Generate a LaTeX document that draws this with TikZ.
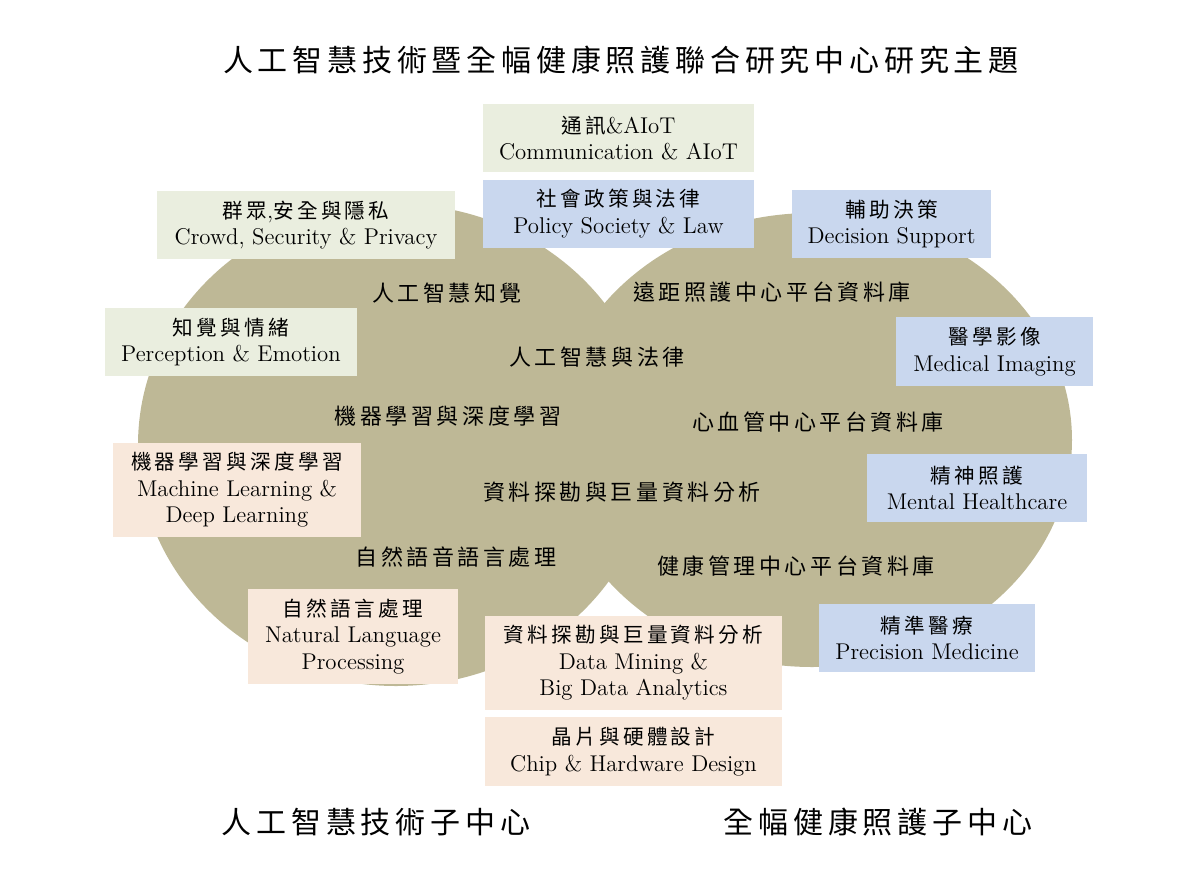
\documentclass[tikz,border=0pt]{standalone}
\usepackage{fontspec}
\newfontfamily\cjk[LetterSpace=16]{Noto Sans CJK TC}
\usetikzlibrary{positioning}
\definecolor{khaki}{HTML}{BEB896}
\definecolor{sage}{HTML}{EAEEDF}
\definecolor{sky}{HTML}{C9D7EE}
\definecolor{peach}{HTML}{F8E8DB}
\newcommand{\zh}[1]{{\cjk\fontsize{10.3}{13.3}\selectfont #1}}
\tikzset{card/.style={rectangle,inner sep=0pt,align=center,font=\fontsize{11.4}{13.3}\selectfont},
  netcard/.style={card,fill=sage},
  medcard/.style={card,fill=sky},
  aicard/.style={card,fill=peach},
  topic/.style={font=\cjk\fontsize{11}{13}\selectfont,inner sep=0pt},
  heading/.style={font=\cjk\fontsize{15}{18}\selectfont,inner sep=0pt}}

\begin{document}
\begin{tikzpicture}[x=.5pt,y=-.5pt]
\useasboundingbox (0,0) rectangle (1200,884);
% two overlapping sub-centres
\fill[khaki] (396,445) ellipse [x radius=258,y radius=241];
\fill[khaki] (812,440) ellipse [x radius=260,y radius=227];
\node[heading] (title) at (621,60) {人工智慧技術暨全幅健康照護聯合研究中心研究主題};
\node[heading] (aiside) at (376,822) {人工智慧技術子中心};
\node[heading] (hcside) at (878,822) {全幅健康照護子中心};
\foreach \x/\y/\t [count=\i] in {447/293/人工智慧知覺,597/357/人工智慧與法律,
  448/416/機器學習與深度學習,622/492/資料探勘與巨量資料分析,456/557/自然語音語言處理,
  772/292/遠距照護中心平台資料庫,818/422/心血管中心平台資料庫,796/566/健康管理中心平台資料庫}
  \node[topic] (topic\i) at (\x,\y) {\t};
% boxes
\node[netcard,minimum width=135.5pt,minimum height=34pt] (comm) at (618.5,138) {\zh{通訊}\&AIoT\\Communication \& AIoT};
\node[medcard,minimum width=135.5pt,minimum height=34pt] (policy) at (618.5,213.5) {\zh{社會政策與法律}\\Policy Society \& Law};
\node[netcard,minimum width=149pt,minimum height=34pt] (crowd) at (306,225) {\zh{群眾},\zh{安全與隱私}\\Crowd, Security \& Privacy};
\node[netcard,minimum width=126pt,minimum height=34pt] (percep) at (231,342) {\zh{知覺與情緒}\\Perception \& Emotion};
\node[aicard,minimum width=124pt,minimum height=47pt] (ml) at (237,490) {\zh{機器學習與深度學習}\\Machine Learning \&\\Deep Learning};
\node[aicard,minimum width=105pt,minimum height=47.5pt] (nlp) at (353,636.5) {\zh{自然語言處理}\\Natural Language\\Processing};
\node[aicard,minimum width=148.5pt,minimum height=47pt] (mining) at (633.5,663) {\zh{資料探勘與巨量資料分析}\\Data Mining \&\\Big Data Analytics};
\node[aicard,minimum width=148.5pt,minimum height=34.5pt] (chip) at (633.5,751.5) {\zh{晶片與硬體設計}\\Chip \& Hardware Design};
\node[medcard,minimum width=99.5pt,minimum height=34pt] (decision) at (891.5,224) {\zh{輔助決策}\\Decision Support};
\node[medcard,minimum width=98.5pt,minimum height=34.5pt] (imaging) at (994.5,351.5) {\zh{醫學影像}\\Medical Imaging};
\node[medcard,minimum width=110pt,minimum height=34pt] (mental) at (977,488) {\zh{精神照護}\\Mental Healthcare};
\node[medcard,minimum width=108pt,minimum height=34pt] (precision) at (927,638) {\zh{精準醫療}\\Precision Medicine};
\end{tikzpicture}
\end{document}
